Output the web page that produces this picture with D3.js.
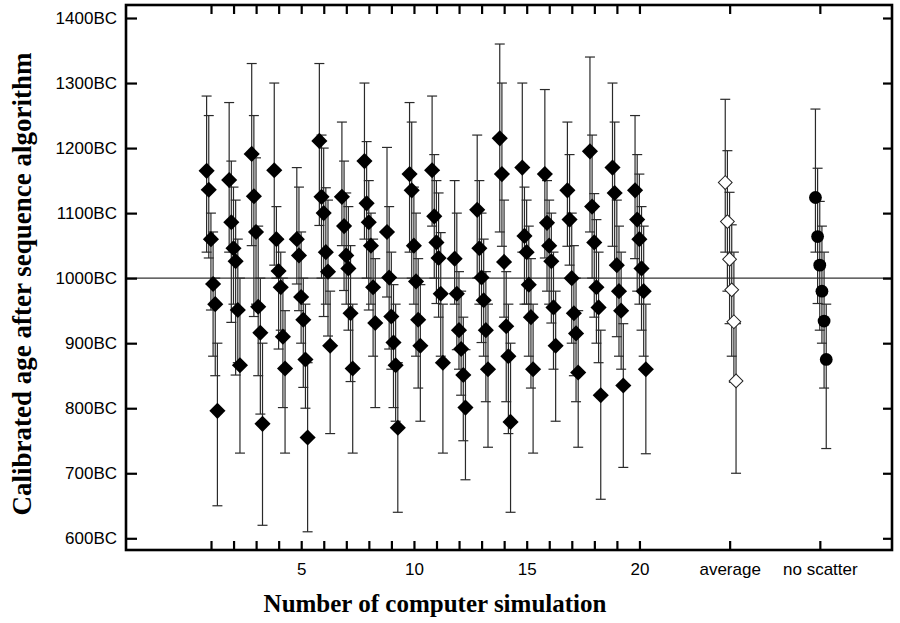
<!DOCTYPE html>
<html>
<head>
<meta charset="utf-8">
<script src="https://cdn.jsdelivr.net/npm/d3@7"></script>
<style>
  body { margin: 0; background: #fff; }
  svg { display: block; }
</style>
</head>
<body>
<svg id="drawing_region"></svg>
<script>
// calibrated ages (years BC) of the 6 samples in each of the 20 simulations
const simValues = [
    [1165, 1136, 1060, 991, 960, 796],
    [1151, 1086, 1046, 1026, 951, 866],
    [1191, 1126, 1071, 956, 916, 776],
    [1166, 1060, 1011, 986, 910, 861],
    [1060, 1035, 971, 936, 875, 755],
    [1211, 1125, 1100, 1040, 1010, 896],
    [1125, 1080, 1035, 1015, 946, 861],
    [1180, 1115, 1086, 1050, 986, 931],
    [1071, 1001, 941, 901, 866, 770],
    [1160, 1135, 1050, 995, 936, 896],
    [1166, 1095, 1055, 1031, 976, 870],
    [1030, 976, 920, 891, 851, 801],
    [1105, 1046, 1001, 966, 920, 860],
    [1215, 1160, 1025, 926, 880, 779],
    [1170, 1065, 1040, 990, 940, 860],
    [1160, 1085, 1050, 1026, 955, 896],
    [1135, 1090, 1000, 946, 915, 855],
    [1195, 1110, 1055, 986, 955, 820],
    [1170, 1131, 1020, 980, 950, 835],
    [1135, 1090, 1060, 1015, 980, 860]
];
const simUpper = [
    [1280, 1250, 1100, 1071, 1000, 900],
    [1270, 1180, 1140, 1120, 1060, 1000],
    [1330, 1250, 1185, 1080, 1000, 900],
    [1300, 1110, 1060, 1040, 1000, 950],
    [1170, 1140, 1071, 1000, 960, 870],
    [1330, 1220, 1200, 1139, 1120, 980],
    [1240, 1180, 1131, 1110, 1050, 960],
    [1300, 1210, 1150, 1100, 1060, 1030],
    [1201, 1110, 1040, 990, 960, 870],
    [1270, 1240, 1140, 1100, 1030, 990],
    [1280, 1190, 1150, 1131, 1070, 960],
    [1150, 1100, 1010, 980, 940, 890],
    [1220, 1150, 1100, 1060, 1010, 960],
    [1360, 1300, 1120, 1010, 960, 900],
    [1300, 1140, 1120, 1080, 1030, 960],
    [1290, 1150, 1120, 1100, 1040, 980],
    [1240, 1190, 1100, 1050, 1000, 950],
    [1340, 1220, 1130, 1090, 1040, 920],
    [1300, 1240, 1120, 1080, 1040, 930],
    [1250, 1190, 1160, 1110, 1080, 960]
];
const simLower = [
    [1040, 1031, 951, 880, 850, 650],
    [1040, 932, 960, 851, 870, 731],
    [1050, 941, 960, 850, 791, 620],
    [1020, 1000, 891, 920, 801, 731],
    [991, 950, 900, 832, 800, 610],
    [1081, 1000, 941, 960, 911, 761],
    [1050, 981, 960, 920, 841, 731],
    [1060, 1000, 951, 960, 880, 801],
    [971, 891, 860, 801, 780, 640],
    [1040, 1000, 960, 880, 831, 780],
    [1080, 1000, 961, 940, 880, 731],
    [960, 890, 860, 820, 750, 690],
    [1000, 960, 901, 880, 810, 740],
    [1071, 1049, 940, 810, 761, 640],
    [1040, 960, 960, 880, 831, 731],
    [1031, 980, 960, 931, 860, 780],
    [1049, 1020, 900, 850, 810, 740],
    [1071, 1000, 940, 900, 870, 660],
    [1049, 1020, 910, 880, 860, 709],
    [1030, 980, 960, 920, 880, 730]
];

const avgValues = [1147, 1087, 1029, 982, 933, 842];
const avgUpper = [1275, 1196, 1132, 1082, 1040, 930];
const avgLower = [1040, 980, 930, 880, 840, 700];

const noScatterValues = [1124, 1064, 1020, 980, 934, 875];
const noScatterUpper = [1260, 1169, 1118, 1080, 1040, 960];
const noScatterLower = [1040, 961, 920, 900, 831, 738];

// x positions of the groups on the axis and their tick labels
const simPositions = d3.range(1, 21);
const avgPosition = 24;
const noScatterPosition = 28;
const xTickLabels = {5: "5", 10: "10", 15: "15", 20: "20", 24: "average", 28: "no scatter"};
const yTicks = [600, 700, 800, 900, 1000, 1100, 1200, 1300, 1400];

const config = {
    width: 900,
    height: 623,
    margin: {top: 5, right: 8, bottom: 73, left: 126}
};

const svg = d3.select('#drawing_region')
    .attr('width', config.width)
    .attr('height', config.height);

const inner_width = config.width - config.margin.left - config.margin.right;
const inner_height = config.height - config.margin.top - config.margin.bottom;

const chart = svg.append('g')
    .attr('transform', `translate(${config.margin.left}, ${config.margin.top})`);

const xscale = d3.scaleLinear()
    .domain([-2.77, 31.2])
    .range([0, inner_width]);

const yscale = d3.scaleLinear()
    .domain([582, 1420])
    .range([inner_height, 0]);

// small horizontal shift of the 6 samples inside one group
const offset = d3.scaleLinear()
    .domain([0, 5])
    .range([-4.4, 6.4]);

// flatten everything into one list of points
let points = [];
simValues.forEach((vals, g) => {
    vals.forEach((v, i) => {
        points.push({pos: simPositions[g], i: i, v: v, up: simUpper[g][i], lo: simLower[g][i], kind: 'sim'});
    });
});
avgValues.forEach((v, i) => {
    points.push({pos: avgPosition, i: i, v: v, up: avgUpper[i], lo: avgLower[i], kind: 'avg'});
});
noScatterValues.forEach((v, i) => {
    points.push({pos: noScatterPosition, i: i, v: v, up: noScatterUpper[i], lo: noScatterLower[i], kind: 'ns'});
});
const px = d => xscale(d.pos) + offset(d.i);

// reference line at 1000BC
chart.append('line')
    .attr('x1', 0).attr('x2', inner_width)
    .attr('y1', yscale(1000)).attr('y2', yscale(1000))
    .attr('stroke', '#333')
    .attr('stroke-width', 1.3);

// error bars
const bars = chart.append('g')
    .attr('stroke', '#2a2a2a')
    .attr('stroke-width', 1.2)
    .attr('fill', 'none');

bars.selectAll('line.stem')
    .data(points)
    .join('line')
    .attr('class', 'stem')
    .attr('x1', px).attr('x2', px)
    .attr('y1', d => yscale(d.up))
    .attr('y2', d => yscale(d.lo));

bars.selectAll('line.capTop')
    .data(points)
    .join('line')
    .attr('class', 'capTop')
    .attr('x1', d => px(d) - 5).attr('x2', d => px(d) + 5)
    .attr('y1', d => yscale(d.up)).attr('y2', d => yscale(d.up));

bars.selectAll('line.capBot')
    .data(points)
    .join('line')
    .attr('class', 'capBot')
    .attr('x1', d => px(d) - 5).attr('x2', d => px(d) + 5)
    .attr('y1', d => yscale(d.lo)).attr('y2', d => yscale(d.lo));

// markers
chart.selectAll('path.sim')
    .data(points.filter(d => d.kind === 'sim'))
    .join('path')
    .attr('class', 'sim')
    .attr('d', d3.symbol().type(d3.symbolSquare).size(130))
    .attr('transform', d => `translate(${px(d)},${yscale(d.v)}) rotate(45)`)
    .attr('fill', '#000');

chart.selectAll('path.avg')
    .data(points.filter(d => d.kind === 'avg'))
    .join('path')
    .attr('class', 'avg')
    .attr('d', d3.symbol().type(d3.symbolSquare).size(95))
    .attr('transform', d => `translate(${px(d)},${yscale(d.v)}) rotate(45)`)
    .attr('fill', '#fff')
    .attr('stroke', '#222')
    .attr('stroke-width', 1);

chart.selectAll('circle.ns')
    .data(points.filter(d => d.kind === 'ns'))
    .join('circle')
    .attr('class', 'ns')
    .attr('cx', px)
    .attr('cy', d => yscale(d.v))
    .attr('r', 6.4)
    .attr('fill', '#000');

// axes, ticks pointing inward
const xTickValues = simPositions.concat([avgPosition, noScatterPosition]);

const xaxis = d3.axisBottom(xscale)
    .tickValues(xTickValues)
    .tickSize(-9)
    .tickPadding(13)
    .tickFormat(d => xTickLabels[d] || '');

const xaxis_top = d3.axisTop(xscale)
    .tickValues(xTickValues)
    .tickSize(-9)
    .tickFormat('');

const yaxis = d3.axisLeft(yscale)
    .tickValues(yTicks)
    .tickSize(-11)
    .tickPadding(9)
    .tickFormat(d => d + 'BC');

const yaxis_right = d3.axisRight(yscale)
    .tickValues(yTicks)
    .tickSize(-9)
    .tickFormat('');

chart.append('g')
    .attr('transform', `translate(0, ${inner_height})`)
    .call(xaxis);
chart.append('g').call(xaxis_top);
chart.append('g').call(yaxis);
chart.append('g')
    .attr('transform', `translate(${inner_width}, 0)`)
    .call(yaxis_right);

chart.selectAll('.domain').remove();
chart.selectAll('.tick line')
    .attr('stroke', '#000')
    .attr('stroke-width', 2.2);
chart.selectAll('.tick text')
    .attr('fill', '#000')
    .attr('font-family', 'Liberation Sans, Arial, sans-serif')
    .attr('font-size', '17px');

// frame
chart.append('rect')
    .attr('x', 0).attr('y', 0)
    .attr('width', inner_width).attr('height', inner_height)
    .attr('fill', 'none')
    .attr('stroke', '#000')
    .attr('stroke-width', 2.6);

// axis titles
svg.append('text')
    .attr('x', 435)
    .attr('y', 612)
    .attr('text-anchor', 'middle')
    .attr('font-family', 'Liberation Serif, Times New Roman, serif')
    .attr('font-weight', 'bold')
    .attr('font-size', '25px')
    .attr('fill', '#000')
    .text('Number of computer simulation');

svg.append('text')
    .attr('transform', 'translate(31, 284) rotate(-90)')
    .attr('text-anchor', 'middle')
    .attr('font-family', 'Liberation Serif, Times New Roman, serif')
    .attr('font-weight', 'bold')
    .attr('font-size', '27px')
    .attr('fill', '#000')
    .text('Calibrated age after sequence algorithm');
</script>
</body>
</html>
